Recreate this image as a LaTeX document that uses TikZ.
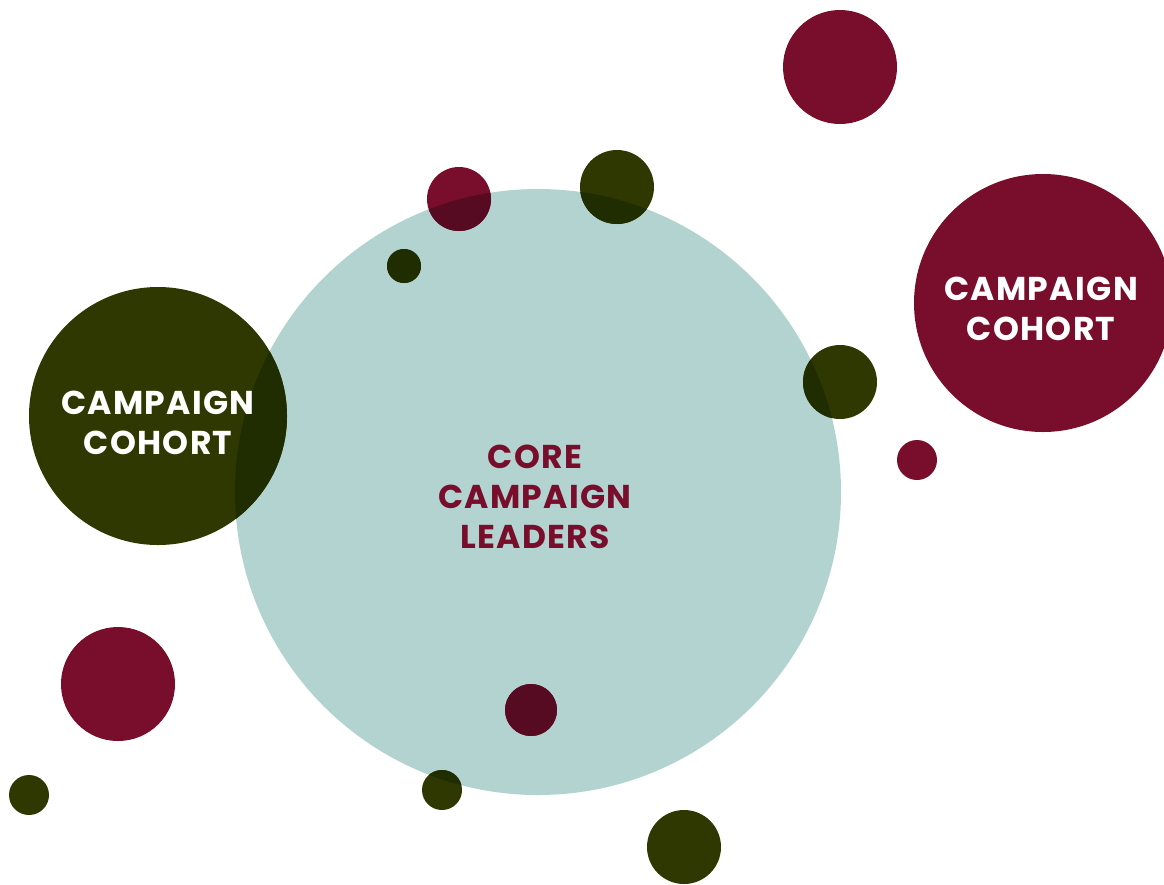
\documentclass[tikz,border=0pt]{standalone}
\usepackage{fontspec}
\setmainfont{Poppins}[UprightFont=* SemiBold, BoldFont=* Bold, LetterSpace=4]
\definecolor{teal}{HTML}{B3D3D1}
\definecolor{wine}{HTML}{780E2B}
\definecolor{olive}{HTML}{2E3800}
\definecolor{winedark}{HTML}{570B22}
\definecolor{olivedark}{HTML}{202D00}
\tikzset{
  label/.style={font=\fontsize{33}{40}\selectfont\bfseries, align=center, inner sep=0pt},
}
\begin{document}
\begin{tikzpicture}[x=1pt,y=-1pt]
\useasboundingbox (0,0) rectangle (1164,884);
\clip (0,0) rectangle (1164,884);
% main circle
\fill[teal] (538,492) circle (303);
% wine circles
\foreach \x/\y/\r in {840/67/57, 1043/303/129, 459/199/32, 917/460/20, 118/684/57, 531/710/26}
  \fill[wine] (\x,\y) circle (\r);
% olive circles
\foreach \x/\y/\r in {158/416/129, 617/187/37, 404/266/17, 840/382/37, 29/795/20, 442/790/20, 684/847/37}
  \fill[olive] (\x,\y) circle (\r);
% overlaps (teal multiplied)
\begin{scope}
  \clip (538,492) circle (303);
  \foreach \x/\y/\r in {459/199/32, 531/710/26}
    \fill[winedark] (\x,\y) circle (\r);
  \foreach \x/\y/\r in {158/416/129, 617/187/37, 404/266/17, 840/382/37, 442/790/20, 684/847/37}
    \fill[olivedark] (\x,\y) circle (\r);
\end{scope}
% texts
\node[label, text=white] (left) at (158,423) {CAMPAIGN\\COHORT};
\node[label, text=white] (right) at (1041,309) {CAMPAIGN\\COHORT};
\node[label, text=wine] (core) at (535,497) {CORE\\CAMPAIGN\\LEADERS};
\end{tikzpicture}
\end{document}
